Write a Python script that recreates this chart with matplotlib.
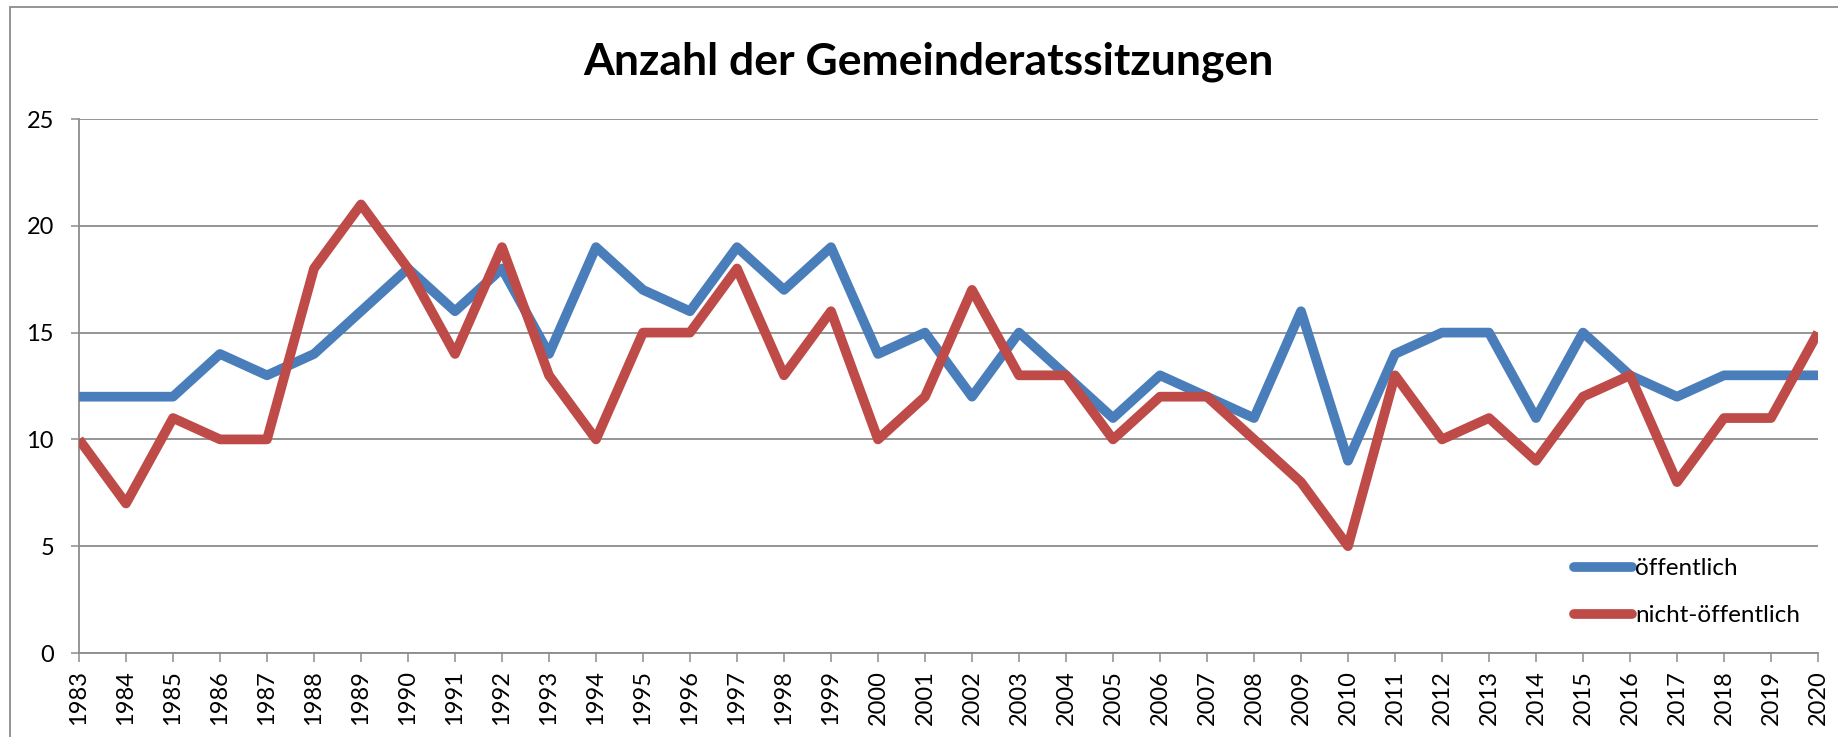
import numpy as np
import matplotlib
matplotlib.use('Agg')
import matplotlib.pyplot as plt
from matplotlib.patches import Rectangle

years = list(range(1983, 2021))
oeffentlich = [12, 12, 12, 14, 13, 14, 16, 18, 16, 18,
               14, 19, 17, 16, 19, 17, 19, 14, 15, 12,
               15, 13, 11, 13, 12, 11, 16, 9, 14, 15,
               15, 11, 15, 13, 12, 13, 13, 13]
nicht_oeffentlich = [10, 7, 11, 10, 10, 18, 21, 18, 14, 19,
                     13, 10, 15, 15, 18, 13, 16, 10, 12, 17,
                     13, 13, 10, 12, 12, 10, 8, 5, 13, 10,
                     11, 9, 12, 13, 8, 11, 11, 15]
y_ticks = [0, 5, 10, 15, 20, 25]

plt.rcParams['font.family'] = ['Lato', 'DejaVu Sans']

blue = '#4A7EBB'
red = '#BE4B48'
grey = '#8C8C8C'

fig = plt.figure(figsize=(18.38, 7.37), dpi=100)
ax = fig.add_axes([79/1838, 1 - 653/737, (1818 - 79)/1838, (653 - 119)/737])

ax.plot(years, oeffentlich, color=blue, lw=7, solid_joinstyle='round',
        solid_capstyle='butt', label='öffentlich', zorder=3)
ax.plot(years, nicht_oeffentlich, color=red, lw=7, solid_joinstyle='round',
        solid_capstyle='butt', label='nicht-öffentlich', zorder=3)

ax.set_xlim(years[0], years[-1])
ax.set_ylim(0, 25)
ax.set_xticks(years)
ax.set_xticklabels([str(y) for y in years], rotation=90, fontsize=17)
ax.set_yticks(y_ticks)
ax.set_yticklabels([str(v) for v in y_ticks], fontsize=17)
ax.grid(axis='y', color=grey, lw=1.3)
ax.set_axisbelow(True)

for s in ['top', 'right']:
    ax.spines[s].set_visible(False)
for s in ['left', 'bottom']:
    ax.spines[s].set_color(grey)
    ax.spines[s].set_linewidth(1.3)
ax.tick_params(axis='x', direction='out', length=6.5, width=1.1, color=grey, pad=6)
ax.tick_params(axis='y', direction='out', length=6, width=1.1, color=grey, pad=12)

fig.text(0.505, 1 - 62/737, 'Anzahl der Gemeinderatssitzungen',
         ha='center', va='center', fontsize=32, fontweight='bold')

leg = fig.legend(loc='upper left', bbox_to_anchor=(1574/1838, 1 - 558/737),
                 frameon=False, fontsize=17.5, handlelength=2.4, handletextpad=0.1,
                 labelspacing=1.07, borderpad=0, borderaxespad=0)
for line in leg.get_lines():
    line.set_linewidth(7)
    line.set_solid_capstyle('round')

# outer chart border (cut off at right and bottom)
fig.patches.append(Rectangle((10/1838, -0.05), 1.05, 1.05 - 7/737,
                             transform=fig.transFigure, fill=False,
                             edgecolor=grey, lw=1.3, clip_on=False))

fig.savefig('out.png', dpi=100)
